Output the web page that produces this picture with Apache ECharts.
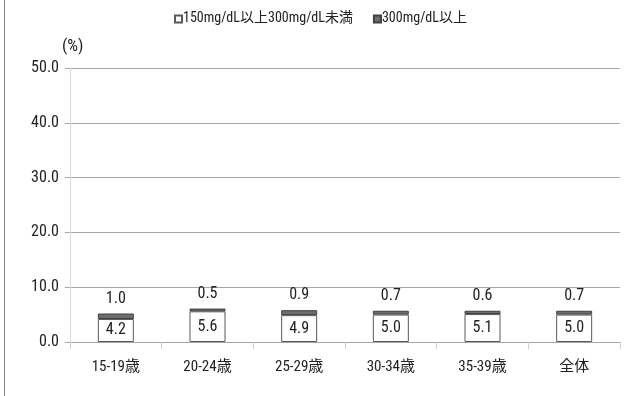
<!DOCTYPE html>
<html><head><meta charset="utf-8">
<script src="https://cdn.jsdelivr.net/npm/echarts@6/dist/echarts.min.js"></script>
<style>html,body{margin:0;padding:0;background:#fff}#c{width:633px;height:396px}</style>
</head><body><div id="c"></div>
<script>
const categories = ['15-19歳','20-24歳','25-29歳','30-34歳','35-39歳','全体'];
const seriesNames = ['150mg/dL以上300mg/dL未満','300mg/dL以上'];
const lowValues = [4.2, 5.6, 4.9, 5.0, 5.1, 5.0];
const highValues = [1.0, 0.5, 0.9, 0.7, 0.6, 0.7];
const yTicks = [0, 10, 20, 30, 40, 50];

const FONT = "'Roboto Condensed','Noto Sans CJK JP',sans-serif";
const chart = echarts.init(document.getElementById('c'), null, {renderer:'canvas'});
chart.setOption({
  animation:false,
  textStyle:{fontFamily:FONT},
  legend:{
    top:7, left:169, itemWidth:7, itemHeight:7, itemGap:20,
    textStyle:{fontSize:14, color:'#222', fontFamily:FONT, padding:[0,0,0,-4]},
    data:[{name:seriesNames[0], icon:'rect'},{name:seriesNames[1], icon:'rect'}]
  },
  graphic:[
    {type:'line', shape:{x1:4.5,y1:0,x2:4.5,y2:396}, style:{stroke:'#888', lineWidth:1}},
    {type:'text', left:62, top:38, style:{text:'(%)', font:"17px "+FONT, fill:'#222'}}
  ],
  grid:{left:70, right:13, top:68, bottom:54},
  xAxis:{
    type:'category', data:categories,
    axisLine:{lineStyle:{color:'#a6a6a6'}},
    axisTick:{show:true, length:7, lineStyle:{color:'#d0d0d0'}},
    axisLabel:{fontSize:15, color:'#222', margin:18, fontFamily:FONT}
  },
  yAxis:{
    type:'value', min:yTicks[0], max:yTicks[yTicks.length-1], interval:10,
    axisLine:{show:true, lineStyle:{color:'#d9d9d9'}},
    axisTick:{show:true, length:5, lineStyle:{color:'#a6a6a6'}},
    splitLine:{lineStyle:{color:'#a6a6a6'}},
    axisLabel:{fontSize:16, color:'#222', margin:11, formatter:v=>v.toFixed(1), fontFamily:FONT}
  },
  series:[
    {name:seriesNames[0], type:'bar', stack:'a', data:lowValues, barWidth:36,
     itemStyle:{color:'#ffffff', borderColor:'#595959', borderWidth:1},
     label:{show:true, position:'inside', formatter:p=>p.value.toFixed(1), fontSize:16, color:'#222', fontFamily:FONT}},
    {name:seriesNames[1], type:'bar', stack:'a', data:highValues, barWidth:36,
     itemStyle:{color:'#6e6e6e', borderColor:'#404040', borderWidth:1},
     label:{show:true, position:'top', distance:7, formatter:p=>p.value.toFixed(1), fontSize:16, color:'#222', fontFamily:FONT}}
  ]
});
</script></body></html>
